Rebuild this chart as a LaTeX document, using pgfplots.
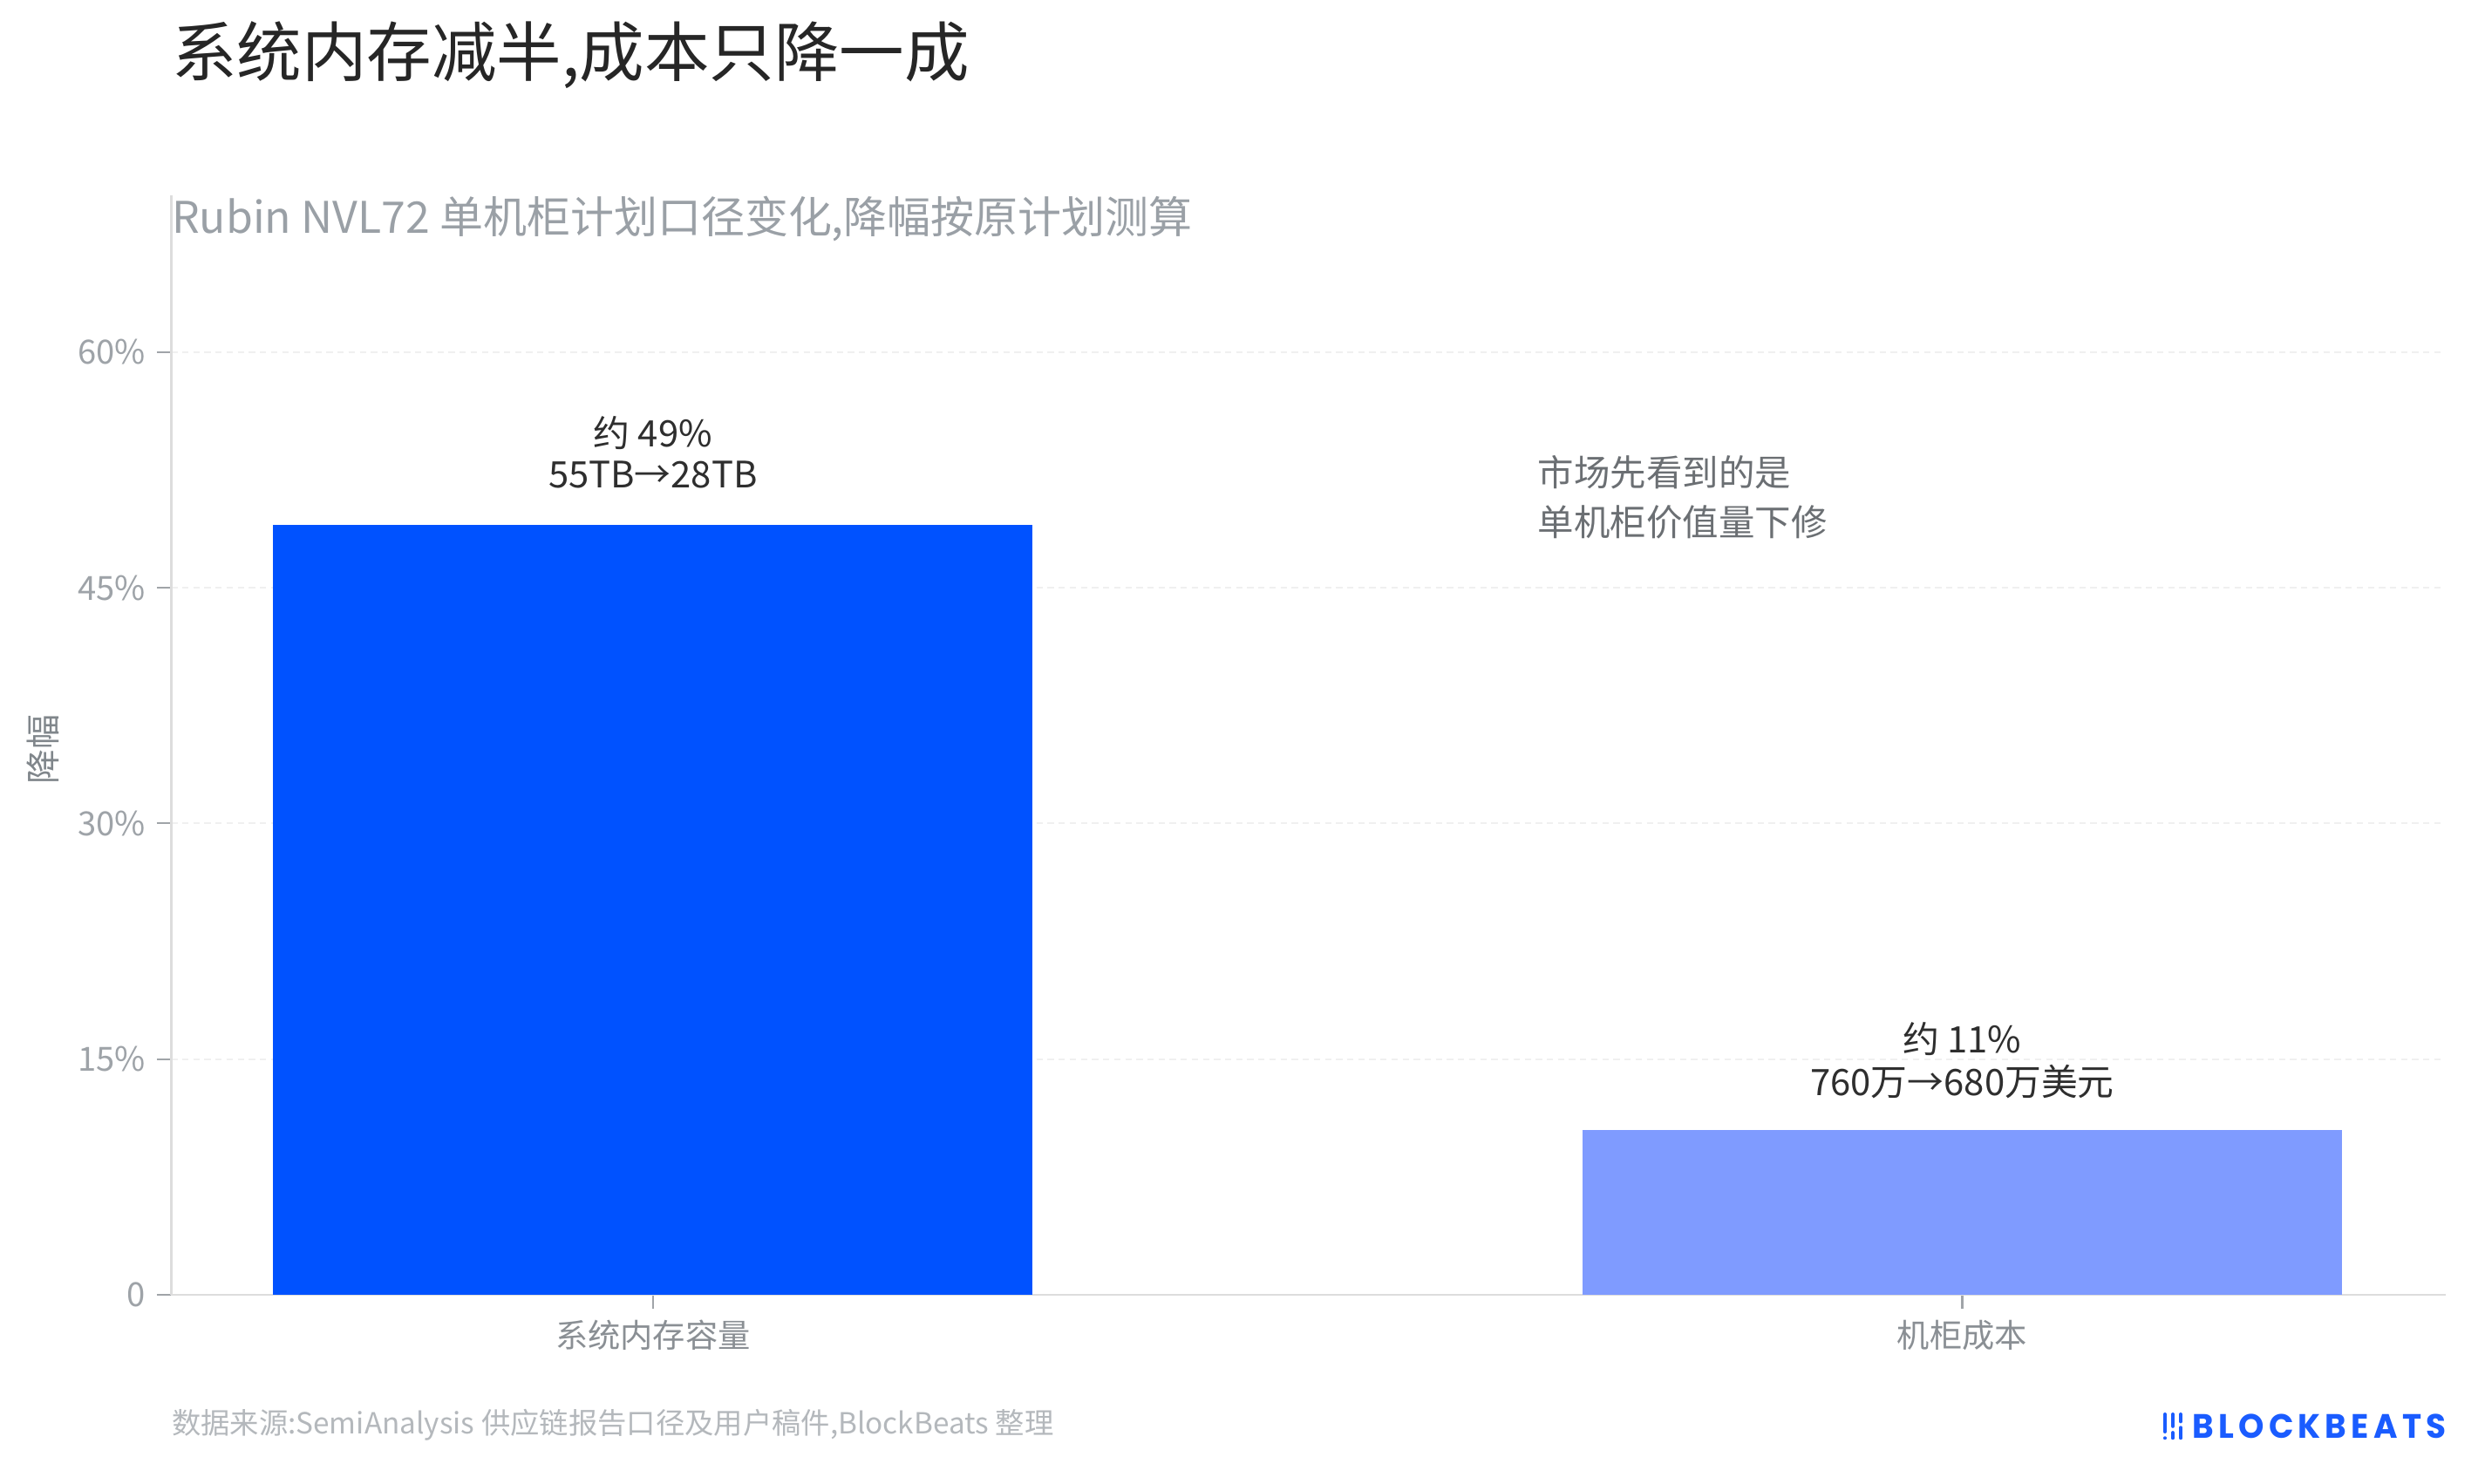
\documentclass[border=0pt]{standalone}
\usepackage{fontspec}
\setmainfont{Noto Sans CJK SC}
\newfontfamily\logofont{Poppins}[LetterSpace=14]
\usepackage{pgfplots}
\pgfplotsset{compat=1.18}
\definecolor{barA}{HTML}{0052FF}
\definecolor{barB}{HTML}{7F9BFF}
\definecolor{titlec}{HTML}{262626}
\definecolor{subc}{HTML}{9AA0A6}
\definecolor{tickc}{HTML}{9EA3A8}
\definecolor{ylabc}{HTML}{80868B}
\definecolor{annoc}{HTML}{2E2E2E}
\definecolor{notec}{HTML}{6B6F73}
\definecolor{xlabc}{HTML}{8A8F94}
\definecolor{footc}{HTML}{B4B8BC}
\definecolor{axisc}{HTML}{DDDDDD}
\definecolor{tickdc}{HTML}{A0A4A8}
\definecolor{gridc}{HTML}{F0F0F0}
\definecolor{logoc}{HTML}{1A5CFF}
\begin{document}
\begin{tikzpicture}
\path[use as bounding box, fill=white] (0pt,0pt) rectangle (784pt,468pt);
\begin{axis}[
  at={(54pt,59.5pt)}, anchor=south west,
  scale only axis, width=717.5pt, height=347pt,
  xmin=-0.368, xmax=1.369, ymin=0, ymax=70,
  ybar, bar width=0.58,
  xtick={0,1}, xticklabels={系统内存容量,机柜成本},
  ytick={0,15,30,45,60}, yticklabels={0,15\%,30\%,45\%,60\%},
  axis lines*=left,
  axis line style={draw=axisc, line width=0.8pt},
  tick align=outside, major tick length=4.5pt,
  tick style={draw=tickdc, line width=0.6pt},
  ymajorgrids, major grid style={draw=gridc, line width=0.5pt, dash pattern=on 2pt off 1.5pt},
  yticklabel style={text=tickc, font=\fontsize{10.5}{12}\selectfont},
  xticklabel style={text=xlabc, font=\fontsize{10.25}{12}\selectfont},
  /pgf/number format/assume math mode=true,
  clip=false,
]
\addplot[fill=barA, draw=none, bar shift=0pt] coordinates {(0,49)};
\addplot[fill=barB, draw=none, bar shift=0pt] coordinates {(1,10.5)};
\node[text=annoc, font=\fontsize{11.5}{13}\selectfont, inner sep=0pt] at (axis cs:0,54.85) {约 49\%};
\node[text=annoc, font=\fontsize{11.5}{13}\selectfont, inner sep=0pt] at (axis cs:0,52.2) {55TB→28TB};
\node[text=annoc, font=\fontsize{11.5}{13}\selectfont, inner sep=0pt] at (axis cs:1,16.26) {约 11\%};
\node[text=annoc, font=\fontsize{11.5}{13}\selectfont, inner sep=0pt] at (axis cs:1,13.54) {760万→680万美元};
\node[text=notec, font=\fontsize{11.4}{13}\selectfont, inner sep=0pt, anchor=west] at (axis cs:0.6755,52.32) {市场先看到的是};
\node[text=notec, font=\fontsize{11.4}{13}\selectfont, inner sep=0pt, anchor=west] at (axis cs:0.6755,49.19) {单机柜价值量下修};
\end{axis}
\node[anchor=west, inner sep=0pt, text=titlec, font=\fontsize{20.5}{24}\selectfont] at (54pt,450.5pt) {系统内存减半,成本只降一成};
\node[anchor=west, inner sep=0pt, text=subc, font=\fontsize{13.75}{16}\selectfont] at (54pt,399pt) {Rubin NVL72 单机柜计划口径变化,降幅按原计划测算};
\node[rotate=90, inner sep=0pt, text=ylabc, font=\fontsize{11}{13}\selectfont] at (13.5pt,231.5pt) {降幅};
\node[anchor=west, inner sep=0pt, text=footc, font=\fontsize{9.17}{11}\selectfont] at (54pt,18.5pt) {数据来源:SemiAnalysis 供应链报告口径及用户稿件,BlockBeats 整理};
\node[anchor=west, inner sep=0pt, text=logoc] at (691.5pt,18pt) {\resizebox{80pt}{7.6pt}{\logofont\bfseries BLOCKBEATS}};
\begin{scope}[draw=logoc, line width=1.1pt, line cap=round]
\draw (683pt,16.3pt) -- (683pt,21.8pt);
\draw (683pt,14.3pt) -- (683pt,14.31pt);
\draw (685.5pt,18pt) -- (685.5pt,21.8pt);
\draw (685.5pt,14.3pt) -- (685.5pt,16pt);
\draw (688pt,19.5pt) -- (688pt,21.8pt);
\draw (688pt,14.3pt) -- (688pt,17.6pt);
\end{scope}
\end{tikzpicture}
\end{document}
